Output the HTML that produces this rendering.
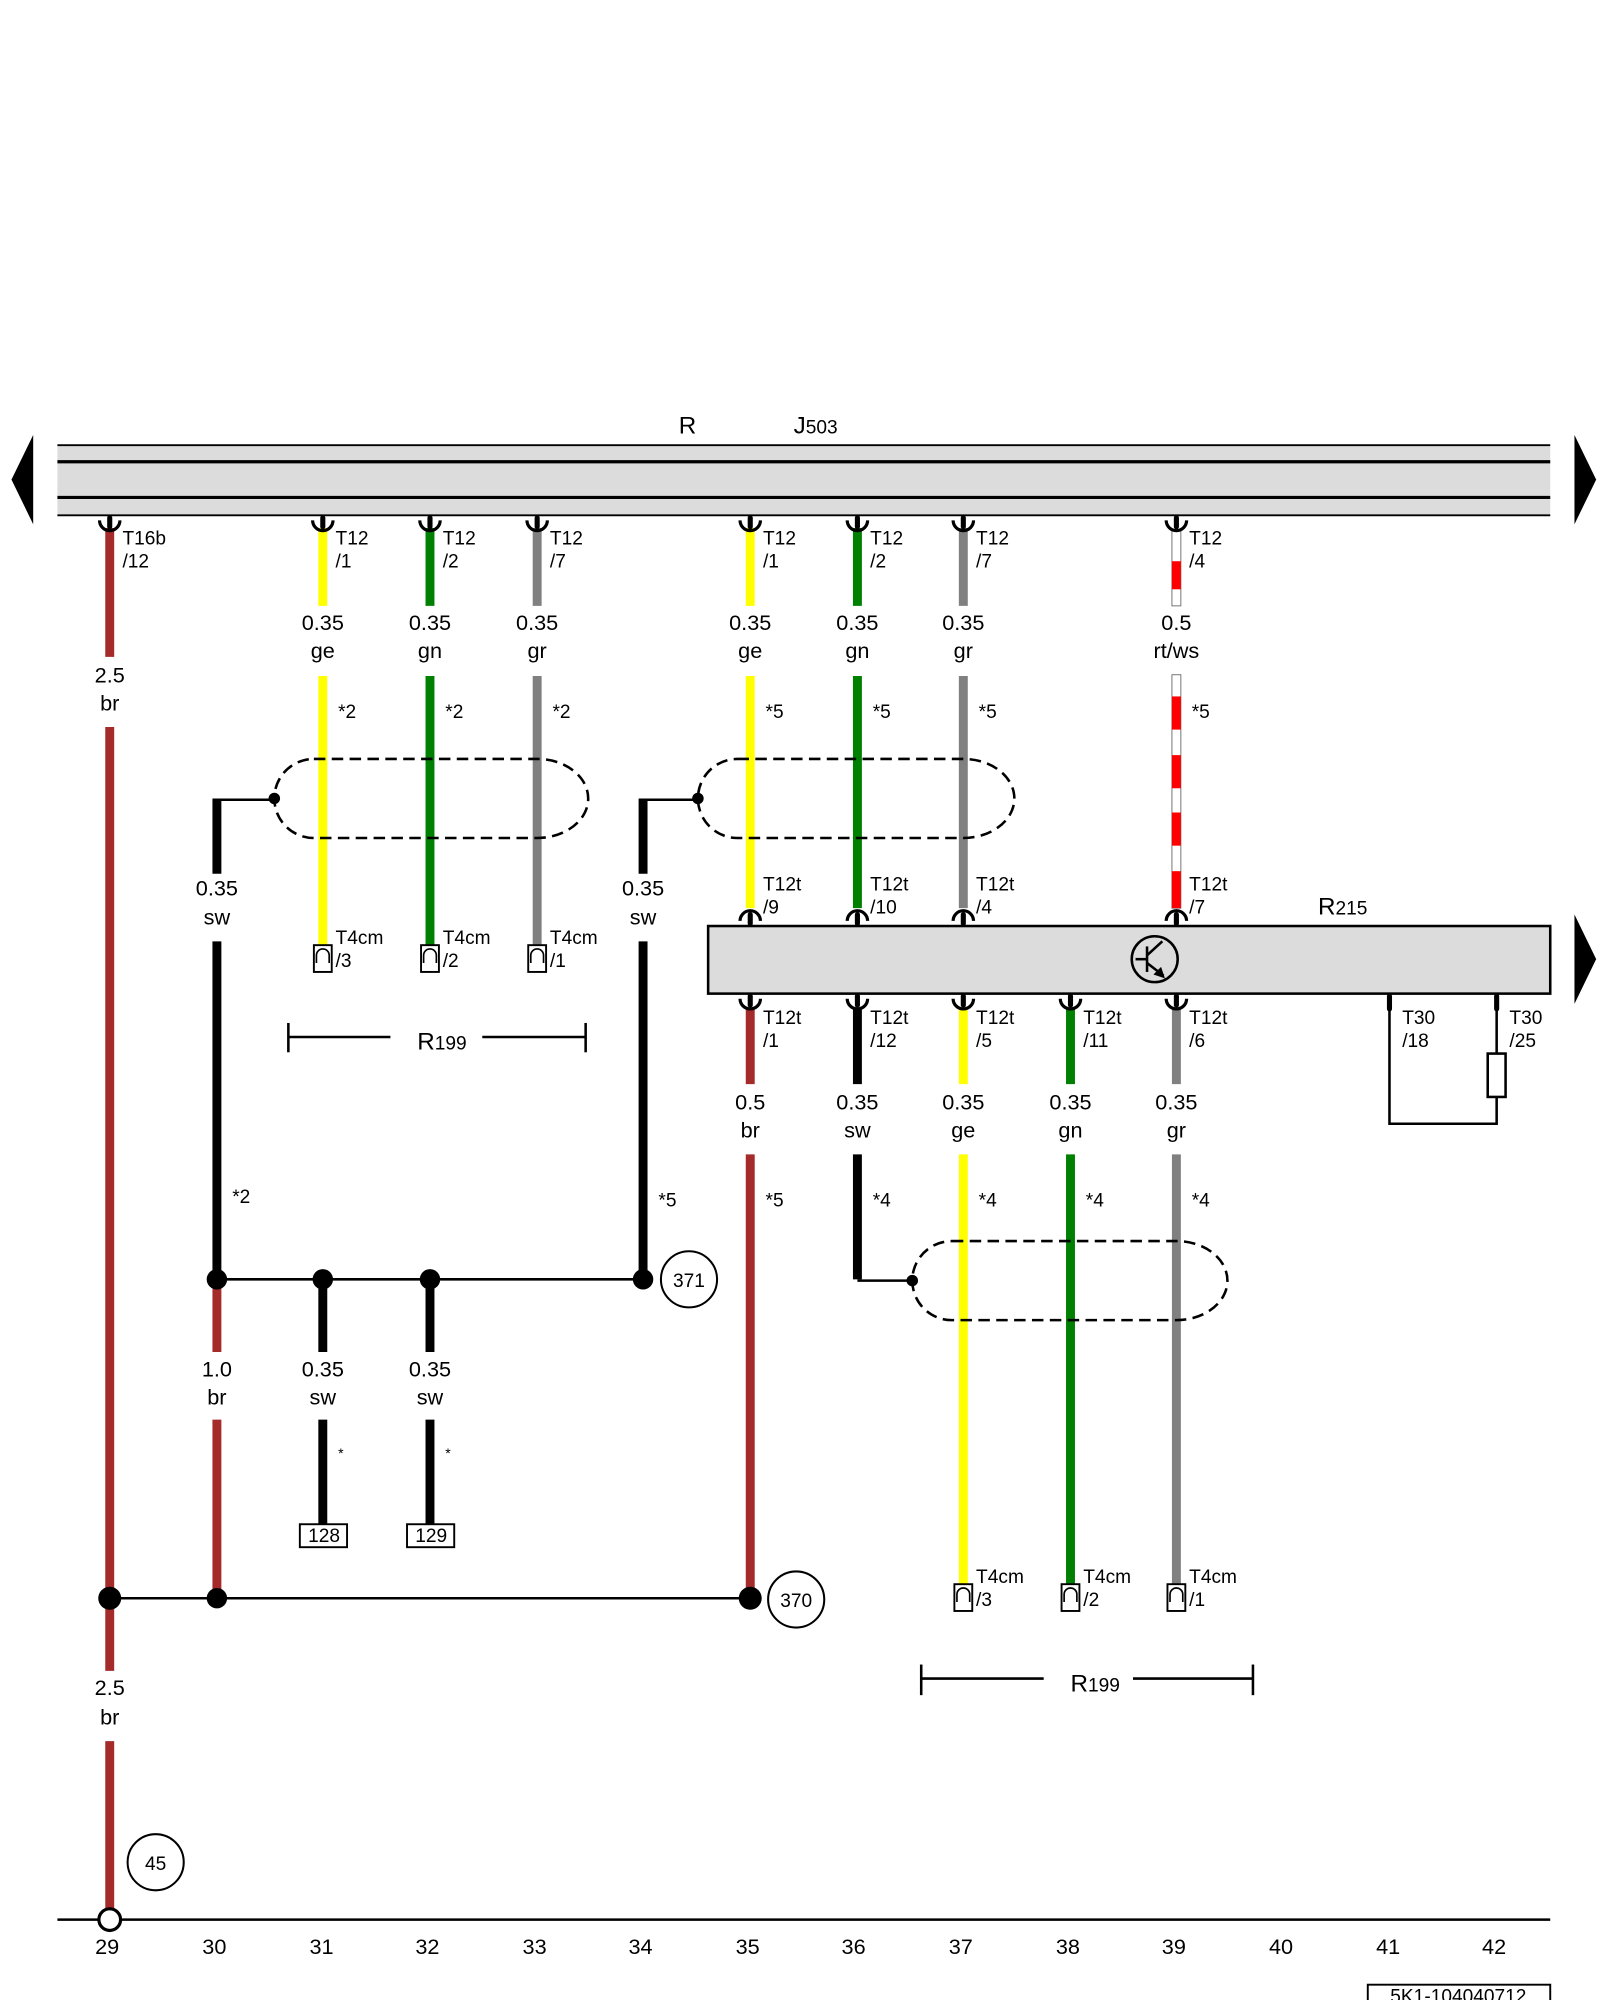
<!DOCTYPE html>
<html><head><meta charset="utf-8"><style>
html,body{margin:0;padding:0;background:#fff;}
svg{display:block;}
text{font-family:"Liberation Sans",sans-serif;fill:#000;}
.n{font-size:17px;text-anchor:middle;}
.c{font-family:"Liberation Sans Narrow","Liberation Sans",sans-serif;font-size:15px;}
.s{font-family:"Liberation Sans Narrow","Liberation Sans",sans-serif;font-size:15px;}
</style></head><body>
<svg width="1600" height="2000" viewBox="0 0 1254 1568" preserveAspectRatio="none" xmlns="http://www.w3.org/2000/svg">
<defs>
<g id="cd"><path d="M-8,4 A8,8 0 0 0 8,4" fill="none" stroke="#000" stroke-width="2.5"/><rect x="-2" y="0" width="4" height="11" rx="2" fill="#000"/></g>
<g id="cu"><path d="M-8,-4 A8,8 0 0 1 8,-4" fill="none" stroke="#000" stroke-width="2.5"/><rect x="-2" y="-11" width="4" height="11" rx="2" fill="#000"/></g>
<g id="t4"><rect x="-7" y="0" width="14" height="21" fill="#fff" stroke="#000" stroke-width="1.5"/><path d="M-5,14 L-5,8 A5,5 0 0 1 5,8 L5,14" fill="none" stroke="#000" stroke-width="1.3"/></g>
<g id="tc"><line x1="0" y1="-12" x2="0" y2="12" stroke="#000" stroke-width="2"/></g>
</defs>

<!-- top bar -->
<text x="532" y="340" style="font-size:19px">R</text>
<text x="622" y="340" style="font-size:19px">J<tspan style="font-size:15px">503</tspan></text>
<rect x="45" y="349" width="1170" height="55" fill="#dcdcdc"/>
<line x1="45" y1="349" x2="1215" y2="349" stroke="#000" stroke-width="1.5"/>
<line x1="45" y1="362" x2="1215" y2="362" stroke="#000" stroke-width="2.5"/>
<line x1="45" y1="390" x2="1215" y2="390" stroke="#000" stroke-width="2.5"/>
<line x1="45" y1="404" x2="1215" y2="404" stroke="#000" stroke-width="1.5"/>
<polygon points="9,376 26,341 26,411" fill="#000"/>
<polygon points="1251,376 1234,341 1234,411" fill="#000"/>

<!-- R215 box -->
<rect x="555" y="726" width="660" height="53" fill="#dcdcdc" stroke="#000" stroke-width="2"/>
<polygon points="1251,752 1234,717 1234,787" fill="#000"/>
<circle cx="905" cy="752" r="18" fill="none" stroke="#000" stroke-width="2"/>
<line x1="899" y1="742" x2="899" y2="762" stroke="#000" stroke-width="2"/>
<line x1="890" y1="752" x2="899" y2="752" stroke="#000" stroke-width="2"/>
<line x1="899" y1="749" x2="911" y2="738" stroke="#000" stroke-width="2"/>
<line x1="899" y1="755" x2="912" y2="765" stroke="#000" stroke-width="2"/>
<polygon points="913,767 904,764 910,758" fill="#000"/>
<text x="1033" y="717" style="font-size:19px">R<tspan style="font-size:15px">215</tspan></text>

<!-- wires group: column 86 br -->
<g stroke-width="7" fill="none">
<line x1="86" y1="414" x2="86" y2="515" stroke="#a52a2a"/>
<line x1="86" y1="570" x2="86" y2="1310" stroke="#a52a2a"/>
<line x1="86" y1="1365" x2="86" y2="1498" stroke="#a52a2a"/>
<!-- left group -->
<line x1="253" y1="414" x2="253" y2="475" stroke="#ffff00"/>
<line x1="253" y1="530" x2="253" y2="741" stroke="#ffff00"/>
<line x1="337" y1="414" x2="337" y2="475" stroke="#008000"/>
<line x1="337" y1="530" x2="337" y2="741" stroke="#008000"/>
<line x1="421" y1="414" x2="421" y2="475" stroke="#808080"/>
<line x1="421" y1="530" x2="421" y2="741" stroke="#808080"/>
<line x1="170" y1="626" x2="170" y2="685" stroke="#000"/>
<line x1="170" y1="738" x2="170" y2="1003" stroke="#000"/>
<line x1="504" y1="626" x2="504" y2="685" stroke="#000"/>
<line x1="504" y1="738" x2="504" y2="1003" stroke="#000"/>
<line x1="170" y1="1003" x2="170" y2="1060" stroke="#a52a2a"/>
<line x1="170" y1="1113" x2="170" y2="1253" stroke="#a52a2a"/>
<line x1="253" y1="1003" x2="253" y2="1060" stroke="#000"/>
<line x1="253" y1="1113" x2="253" y2="1196" stroke="#000"/>
<line x1="337" y1="1003" x2="337" y2="1060" stroke="#000"/>
<line x1="337" y1="1113" x2="337" y2="1196" stroke="#000"/>
<!-- right upper -->
<line x1="588" y1="414" x2="588" y2="475" stroke="#ffff00"/>
<line x1="588" y1="530" x2="588" y2="712" stroke="#ffff00"/>
<line x1="672" y1="414" x2="672" y2="475" stroke="#008000"/>
<line x1="672" y1="530" x2="672" y2="712" stroke="#008000"/>
<line x1="755" y1="414" x2="755" y2="475" stroke="#808080"/>
<line x1="755" y1="530" x2="755" y2="712" stroke="#808080"/>
<!-- right lower -->
<line x1="588" y1="790" x2="588" y2="850" stroke="#a52a2a"/>
<line x1="588" y1="905" x2="588" y2="1253" stroke="#a52a2a"/>
<line x1="672" y1="790" x2="672" y2="850" stroke="#000"/>
<line x1="672" y1="905" x2="672" y2="1003" stroke="#000"/>
<line x1="755" y1="790" x2="755" y2="850" stroke="#ffff00"/>
<line x1="755" y1="905" x2="755" y2="1242" stroke="#ffff00"/>
<line x1="839" y1="790" x2="839" y2="850" stroke="#008000"/>
<line x1="839" y1="905" x2="839" y2="1242" stroke="#008000"/>
<line x1="922" y1="790" x2="922" y2="850" stroke="#808080"/>
<line x1="922" y1="905" x2="922" y2="1242" stroke="#808080"/>
</g>
<!-- rt/ws striped -->
<rect x="918.5" y="416" width="7" height="59" fill="#fff" stroke="#666" stroke-width="0.7"/>
<rect x="918.5" y="440" width="7" height="22" fill="#ff0000"/>
<rect x="918.5" y="529" width="7" height="183" fill="#fff" stroke="#666" stroke-width="0.7"/>
<rect x="918.5" y="546" width="7" height="26" fill="#ff0000"/>
<rect x="918.5" y="592" width="7" height="26" fill="#ff0000"/>
<rect x="918.5" y="637" width="7" height="26" fill="#ff0000"/>
<rect x="918.5" y="683" width="7" height="29" fill="#ff0000"/>

<!-- connectors -->
<use href="#cd" x="86" y="404"/><use href="#cd" x="253" y="404"/><use href="#cd" x="337" y="404"/><use href="#cd" x="421" y="404"/>
<use href="#cd" x="588" y="404"/><use href="#cd" x="672" y="404"/><use href="#cd" x="755" y="404"/><use href="#cd" x="922" y="404"/>
<use href="#cu" x="588" y="726"/><use href="#cu" x="672" y="726"/><use href="#cu" x="755" y="726"/><use href="#cu" x="922" y="726"/>
<use href="#cd" x="588" y="779"/><use href="#cd" x="672" y="779"/><use href="#cd" x="755" y="779"/><use href="#cd" x="839" y="779"/><use href="#cd" x="922" y="779"/>
<use href="#t4" x="253" y="741"/><use href="#t4" x="337" y="741"/><use href="#t4" x="421" y="741"/>
<use href="#t4" x="755" y="1242"/><use href="#t4" x="839" y="1242"/><use href="#t4" x="922" y="1242"/>

<!-- connector labels -->
<g class="c">
<text x="96" y="427">T16b</text><text x="96" y="445">/12</text>
<text x="263" y="427">T12</text><text x="263" y="445">/1</text>
<text x="347" y="427">T12</text><text x="347" y="445">/2</text>
<text x="431" y="427">T12</text><text x="431" y="445">/7</text>
<text x="598" y="427">T12</text><text x="598" y="445">/1</text>
<text x="682" y="427">T12</text><text x="682" y="445">/2</text>
<text x="765" y="427">T12</text><text x="765" y="445">/7</text>
<text x="932" y="427">T12</text><text x="932" y="445">/4</text>
<text x="598" y="698">T12t</text><text x="598" y="716">/9</text>
<text x="682" y="698">T12t</text><text x="682" y="716">/10</text>
<text x="765" y="698">T12t</text><text x="765" y="716">/4</text>
<text x="932" y="698">T12t</text><text x="932" y="716">/7</text>
<text x="598" y="803">T12t</text><text x="598" y="821">/1</text>
<text x="682" y="803">T12t</text><text x="682" y="821">/12</text>
<text x="765" y="803">T12t</text><text x="765" y="821">/5</text>
<text x="849" y="803">T12t</text><text x="849" y="821">/11</text>
<text x="932" y="803">T12t</text><text x="932" y="821">/6</text>
<text x="1099" y="803">T30</text><text x="1099" y="821">/18</text>
<text x="1183" y="803">T30</text><text x="1183" y="821">/25</text>
<text x="263" y="740">T4cm</text><text x="263" y="758">/3</text>
<text x="347" y="740">T4cm</text><text x="347" y="758">/2</text>
<text x="431" y="740">T4cm</text><text x="431" y="758">/1</text>
<text x="765" y="1241">T4cm</text><text x="765" y="1259">/3</text>
<text x="849" y="1241">T4cm</text><text x="849" y="1259">/2</text>
<text x="932" y="1241">T4cm</text><text x="932" y="1259">/1</text>
</g>

<!-- wire size labels -->
<g class="n">
<text x="86" y="535">2.5</text><text x="86" y="557">br</text>
<text x="86" y="1329">2.5</text><text x="86" y="1352">br</text>
<text x="253" y="494">0.35</text><text x="253" y="516">ge</text>
<text x="337" y="494">0.35</text><text x="337" y="516">gn</text>
<text x="421" y="494">0.35</text><text x="421" y="516">gr</text>
<text x="588" y="494">0.35</text><text x="588" y="516">ge</text>
<text x="672" y="494">0.35</text><text x="672" y="516">gn</text>
<text x="755" y="494">0.35</text><text x="755" y="516">gr</text>
<text x="922" y="494">0.5</text><text x="922" y="516">rt/ws</text>
<text x="170" y="702">0.35</text><text x="170" y="725">sw</text>
<text x="504" y="702">0.35</text><text x="504" y="725">sw</text>
<text x="588" y="870">0.5</text><text x="588" y="892">br</text>
<text x="672" y="870">0.35</text><text x="672" y="892">sw</text>
<text x="755" y="870">0.35</text><text x="755" y="892">ge</text>
<text x="839" y="870">0.35</text><text x="839" y="892">gn</text>
<text x="922" y="870">0.35</text><text x="922" y="892">gr</text>
<text x="170" y="1079">1.0</text><text x="170" y="1101">br</text>
<text x="253" y="1079">0.35</text><text x="253" y="1101">sw</text>
<text x="337" y="1079">0.35</text><text x="337" y="1101">sw</text>
</g>

<!-- star labels -->
<g class="s">
<text x="265" y="563">*2</text><text x="349" y="563">*2</text><text x="433" y="563">*2</text>
<text x="600" y="563">*5</text><text x="684" y="563">*5</text><text x="767" y="563">*5</text><text x="934" y="563">*5</text>
<text x="182" y="943">*2</text><text x="516" y="946">*5</text><text x="600" y="946">*5</text>
<text x="684" y="946">*4</text><text x="767" y="946">*4</text><text x="851" y="946">*4</text><text x="934" y="946">*4</text>
<text x="265" y="1143" style="font-size:11px">*</text><text x="349" y="1143" style="font-size:11px">*</text>
</g>

<!-- shields -->
<g fill="none" stroke="#000" stroke-width="2" stroke-dasharray="9,5">
<path d="M246,595 L421,595 A40,31 0 0 1 421,657 L246,657 A31,31 0 0 1 246,595"/>
<path d="M578,595 L755,595 A40,31 0 0 1 755,657 L578,657 A31,31 0 0 1 578,595"/>
<path d="M746,973 L922,973 A40,31 0 0 1 922,1035 L746,1035 A31,31 0 0 1 746,973"/>
</g>
<g stroke="#000" stroke-width="2">
<line x1="170" y1="627" x2="215" y2="627"/>
<line x1="504" y1="627" x2="547" y2="627"/>
<line x1="672" y1="1004" x2="715" y2="1004"/>
</g>
<circle cx="215" cy="626" r="4.5"/><circle cx="547" cy="626" r="4.5"/><circle cx="715" cy="1004" r="4.5"/>

<!-- R199 brackets -->
<g stroke="#000" stroke-width="2">
<line x1="226" y1="813" x2="306" y2="813"/><line x1="378" y1="813" x2="459" y2="813"/>
<line x1="226" y1="802" x2="226" y2="825"/><line x1="459" y1="802" x2="459" y2="825"/>
<line x1="722" y1="1316" x2="818" y2="1316"/><line x1="888" y1="1316" x2="982" y2="1316"/>
<line x1="722" y1="1305" x2="722" y2="1329"/><line x1="982" y1="1305" x2="982" y2="1329"/>
</g>
<text x="327" y="823" style="font-size:19px">R<tspan style="font-size:15px">199</tspan></text>
<text x="839" y="1326" style="font-size:19px">R<tspan style="font-size:15px">199</tspan></text>

<!-- T30 loop with resistor -->
<g stroke="#000" stroke-width="2" fill="none">
<polyline points="1089,790 1089,881 1173,881 1173,860"/>
<line x1="1173" y1="790" x2="1173" y2="826"/>
<rect x="1166" y="826" width="14" height="34" fill="#fff"/>
</g>
<rect x="1087" y="779" width="4" height="14" rx="2"/><rect x="1171" y="779" width="4" height="14" rx="2"/>

<!-- bus lines -->
<g stroke="#000" stroke-width="2">
<line x1="170" y1="1003" x2="504" y2="1003"/>
<line x1="86" y1="1253" x2="588" y2="1253"/>
<line x1="45" y1="1505" x2="1215" y2="1505"/>
</g>
<circle cx="170" cy="1003" r="8"/><circle cx="253" cy="1003" r="8"/><circle cx="337" cy="1003" r="8"/><circle cx="504" cy="1003" r="8"/>
<circle cx="86" cy="1253" r="9"/><circle cx="170" cy="1253" r="8"/><circle cx="588" cy="1253" r="9"/>
<circle cx="86" cy="1505" r="8.5" fill="#fff" stroke="#000" stroke-width="2.5"/>

<!-- numbered circles -->
<g fill="none" stroke="#000" stroke-width="1.6">
<circle cx="540" cy="1003" r="22"/><circle cx="624" cy="1254" r="22"/><circle cx="122" cy="1460" r="22"/>
</g>
<g class="c" style="text-anchor:middle">
<text x="540" y="1009">371</text><text x="624" y="1260">370</text><text x="122" y="1466">45</text>
</g>
<!-- 128/129 boxes -->
<rect x="235" y="1195" width="37" height="18" fill="#fff" stroke="#000" stroke-width="1.5"/>
<rect x="319" y="1195" width="37" height="18" fill="#fff" stroke="#000" stroke-width="1.5"/>
<g class="c" style="text-anchor:middle"><text x="254" y="1209">128</text><text x="338" y="1209">129</text></g>

<!-- bottom numbers -->
<g class="n">
<text x="84" y="1532">29</text><text x="168" y="1532">30</text><text x="252" y="1532">31</text><text x="335" y="1532">32</text>
<text x="419" y="1532">33</text><text x="502" y="1532">34</text><text x="586" y="1532">35</text><text x="669" y="1532">36</text>
<text x="753" y="1532">37</text><text x="837" y="1532">38</text><text x="920" y="1532">39</text><text x="1004" y="1532">40</text>
<text x="1088" y="1532">41</text><text x="1171" y="1532">42</text>
</g>
<rect x="1072" y="1556" width="143" height="20" fill="#fff" stroke="#000" stroke-width="1.5"/>
<text x="1143" y="1570" class="c" style="text-anchor:middle">5K1-104040712</text>
</svg>
</body></html>
